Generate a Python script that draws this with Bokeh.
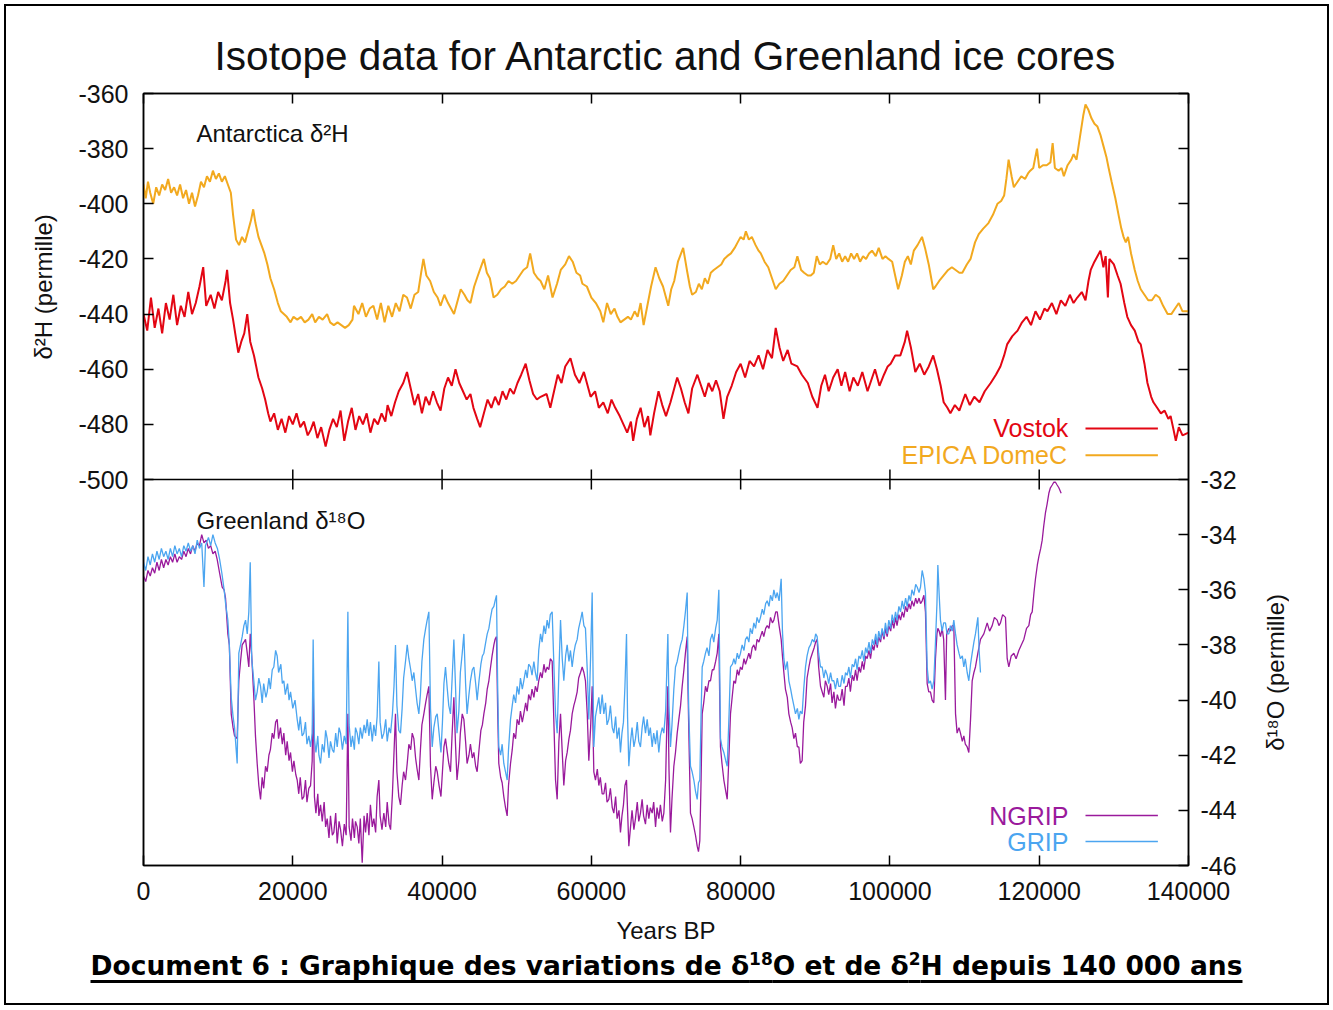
import math
from bokeh.plotting import figure
from bokeh.models import (Range1d, FixedTicker, LinearAxis, Label, Arrow, Div, Span, Title,
                          ColumnDataSource, BasicTickFormatter)
from bokeh.layouts import column, row
from bokeh.embed import file_html
from bokeh.resources import INLINE

# ---------------- data ----------------
TITLE = "Isotope data for Antarctic and Greenland ice cores"
X_LABEL = "Years BP"
H_LABEL = "δ²H (permille)"
O_LABEL = "δ¹⁸O (permille)"
TOP_TAG = "Antarctica δ²H"
BOT_TAG = "Greenland δ¹⁸O"
CAPTION_HTML = ("Document 6 : Graphique des variations de δ<sup>18</sup>O "
                "et de δ<sup>2</sup>H depuis 140 000 ans")

X_TICKS = [0, 20000, 40000, 60000, 80000, 100000, 120000, 140000]
H_TICKS = [-500, -480, -460, -440, -420, -400, -380, -360]
O_TICKS = [-46, -44, -42, -40, -38, -36, -34, -32]

# (years BP, delta2H) Vostok
VOSTOK = [
 (0,-440),(500,-446),(1000,-434),(1500,-445),(2000,-438),(2500,-447),(3000,-436),(3500,-442),
 (4000,-433),(4500,-444),(5000,-437),(5500,-441),(6000,-432),(6500,-440),(7000,-436),(7500,-430),
 (8000,-423),(8400,-437),(9000,-433),(9500,-438),(10000,-432),(10500,-435),(11000,-428),(11200,-424),
 (11600,-436),(12000,-442),(12400,-449),(12700,-454),(13100,-450),(13500,-447),(13900,-440),(14300,-450),
 (14800,-455),(15400,-463),(15900,-467),(16300,-471),(16700,-476),(17000,-479),(17500,-476),(18000,-482),
 (18500,-478),(19000,-483),(19500,-477),(20000,-480),(20500,-476),(21000,-481),(21500,-479),(22000,-484),
 (22400,-482),(22800,-479),(23300,-485),(23800,-481),(24400,-488),(24900,-482),(25400,-478),(25900,-481),
 (26400,-475),(26900,-486),(27400,-479),(27900,-474),(28400,-482),(28900,-477),(29400,-480),(29900,-476),
 (30400,-483),(30900,-478),(31400,-480),(31900,-476),(32400,-479),(32700,-473),(33200,-477),(33700,-472),
 (34200,-468),(34800,-465),(35300,-461),(35800,-467),(36300,-473),(36800,-469),(37300,-476),(37800,-470),
 (38300,-473),(38800,-468),(39300,-472),(39800,-475),(40300,-467),(40800,-463),(41300,-466),(41800,-460),
 (42300,-465),(42800,-468),(43300,-471),(43800,-469),(44200,-474),(44700,-478),(45100,-481),(45600,-476),
 (46100,-471),(46600,-474),(47100,-470),(47600,-473),(48100,-468),(48600,-471),(49100,-467),(49600,-469),
 (50100,-465),(50600,-462),(51200,-458),(51700,-464),(52200,-469),(52700,-471),(53200,-470),(54000,-469),
 (54500,-474),(55000,-468),(55500,-462),(56000,-465),(56500,-459),(57200,-456),(57800,-462),(58400,-465),
 (59000,-461),(59900,-470),(60500,-468),(61000,-474),(61600,-472),(62200,-476),(62700,-471),(63200,-474),
 (63800,-477),(64300,-480),(64800,-483),(65300,-479),(65600,-486),(66100,-478),(66600,-474),(67100,-481),
 (67600,-477),(67900,-484),(68400,-476),(69000,-468),(69500,-473),(70000,-477),(70600,-472),(71000,-468),
 (71500,-463),(72000,-467),(72500,-472),(73000,-476),(73500,-467),(74200,-462),(74700,-466),(75200,-470),
 (75700,-465),(76200,-468),(76700,-464),(77200,-468),(77700,-478),(78200,-470),(78800,-466),(79400,-461),
 (80000,-458),(80600,-463),(81200,-457),(81800,-459),(82400,-455),(83000,-460),(83600,-453),(84200,-456),
 (84700,-445),(85200,-452),(85700,-457),(86300,-453),(86800,-458),(87600,-459),(88200,-462),(89000,-465),
 (89600,-470),(90300,-474),(90800,-466),(91300,-462),(91800,-468),(92400,-463),(93000,-460),(93500,-466),
 (94000,-461),(94600,-468),(95100,-463),(95700,-466),(96300,-461),(97000,-468),(97500,-464),(98000,-460),
 (98600,-466),(99200,-462),(99700,-459),(100100,-458),(100700,-455),(101400,-455),(102000,-450),(102300,-446),
 (102800,-452),(103400,-461),(104000,-458),(104600,-462),(105200,-459),(105800,-455),(106300,-460),(106800,-466),
 (107200,-472),(107700,-474),(108100,-476),(108700,-473),(109300,-475),(110100,-469),(110700,-473),(111300,-470),
 (112000,-472),(112700,-468),(113500,-465),(114200,-462),(114800,-459),(115300,-455),(115700,-451),(116400,-448),
 (117100,-446),(117700,-443),(118300,-441),(118900,-444),(119500,-439),(120100,-442),(120700,-438),(121100,-439),
 (121700,-436),(122300,-440),(122900,-435),(123500,-437),(124100,-433),(124600,-436),(125100,-434),(125700,-432),
 (126200,-435),(126600,-428),(126900,-424),(127400,-421),(127800,-419),(128200,-417),(128600,-423),(128900,-419),
 (129200,-434),(129400,-420),(130000,-422),(130500,-426),(130900,-429),(131400,-436),(131800,-441),(132300,-444),
 (132800,-446),(133300,-450),(133600,-451),(134100,-458),(134500,-465),(135000,-470),(135300,-472),(135800,-474),
 (136300,-476),(136800,-475),(137300,-478),(137600,-477),(138000,-482),(138300,-486),(138700,-481),(139200,-484),
 (140000,-483),
]

# (years BP, delta2H) EPICA Dome C
EPICA = [
 (0,-393),(300,-398),(600,-392),(900,-396),(1300,-400),(1700,-394),(2100,-397),(2500,-393),(2900,-395),
 (3300,-391),(3700,-396),(4100,-394),(4500,-397),(4900,-393),(5300,-398),(5700,-395),(6100,-400),(6500,-396),
 (6900,-401),(7300,-397),(7700,-392),(8100,-394),(8500,-390),(8900,-392),(9300,-388),(9700,-391),(10100,-389),
 (10500,-392),(10900,-390),(11300,-393),(11700,-396),(12000,-404),(12400,-413),(12800,-415),(13200,-412),
 (13600,-414),(14000,-410),(14400,-406),(14700,-402),(15000,-407),(15400,-412),(15800,-415),(16200,-418),
 (16600,-422),(17000,-427),(17500,-431),(18000,-436),(18400,-439),(18800,-440),(19200,-441),(19700,-443),
 (20100,-441),(20600,-442),(21100,-441),(21600,-443),(22100,-442),(22600,-440),(23000,-443),(23500,-441),
 (24000,-442),(24600,-440),(25000,-443),(25500,-444),(26000,-443),(26500,-444),(27000,-445),(27500,-444),
 (28000,-442),(28200,-437),(28800,-440),(29300,-436),(29800,-441),(30300,-438),(30800,-437),(31300,-442),
 (31800,-436),(32300,-443),(32800,-437),(33300,-441),(33800,-436),(34300,-439),(34800,-433),(35300,-434),
 (35800,-438),(36300,-433),(36800,-432),(37200,-425),(37500,-420),(37900,-426),(38400,-428),(38900,-432),
 (39400,-434),(39800,-437),(40300,-433),(40800,-436),(41200,-438),(41600,-440),(42000,-436),(42500,-431),
 (43000,-433),(43400,-435),(43800,-436),(44300,-430),(44800,-426),(45200,-423),(45600,-420),(46000,-425),
 (46400,-427),(46900,-434),(47400,-433),(47900,-431),(48400,-430),(48900,-428),(49400,-429),(49900,-428),
 (50400,-426),(50900,-424),(51400,-423),(51800,-418),(52300,-425),(52800,-427),(53200,-428),(53700,-431),
 (54200,-426),(54800,-434),(55400,-429),(55900,-424),(56500,-422),(57000,-419),(57500,-421),(58000,-425),
 (58500,-426),(58800,-429),(59400,-430),(60000,-434),(60600,-436),(61200,-439),(61600,-443),(62100,-436),
 (62600,-440),(63100,-438),(63500,-441),(63900,-443),(64400,-442),(64900,-441),(65300,-442),(65800,-439),
 (66200,-441),(66600,-436),(67000,-444),(67500,-437),(68000,-430),(68600,-423),(69100,-427),(69600,-430),
 (70000,-434),(70300,-437),(70700,-431),(71100,-428),(71600,-421),(72300,-416),(72800,-424),(73200,-430),
 (73500,-433),(74000,-432),(74400,-429),(74800,-431),(75200,-427),(75600,-429),(76000,-425),(76400,-424),
 (76900,-423),(77400,-422),(77800,-420),(78200,-419),(78700,-418),(79200,-416),(79600,-414),(80000,-412),
 (80400,-413),(80700,-410),(81100,-413),(81500,-412),(82000,-415),(82400,-417),(82700,-418),(83200,-421),
 (83700,-423),(84200,-427),(84700,-431),(85200,-429),(85700,-428),(86200,-426),(86700,-424),(87200,-423),
 (87600,-419),(88100,-424),(88500,-425),(89000,-426),(89400,-426),(89800,-425),(90200,-419),(90600,-422),
 (91000,-421),(91500,-422),(92000,-420),(92400,-415),(92800,-420),(93200,-418),(93600,-421),(94000,-419),
 (94400,-421),(94800,-418),(95200,-420),(95600,-418),(96000,-421),(96400,-419),(96800,-420),(97200,-418),
 (97600,-417),(98100,-419),(98500,-416),(99000,-420),(99400,-419),(99800,-420),(100300,-421),(100700,-426),
 (101100,-431),(101600,-426),(102000,-421),(102400,-419),(102800,-422),(103200,-417),(103700,-415),(104300,-412),
 (104700,-416),(105200,-422),(105800,-431),(106100,-430),(106600,-428),(107200,-426),(107800,-424),(108300,-423),
 (108800,-424),(109300,-425),(109700,-425),(110300,-422),(110800,-420),(111400,-414),(111900,-411),(112500,-409),
 (113200,-407),(113800,-404),(114400,-400),(114900,-399),(115300,-397),(115600,-391),(115900,-384),(116300,-390),
 (116600,-394),(117100,-392),(117600,-390),(118100,-391),(118500,-389),(118800,-388),(119200,-387),(119700,-380),
 (120000,-387),(120500,-386),(121000,-386),(121500,-385),(121800,-378),(122100,-387),(122600,-388),(123000,-387),
 (123300,-390),(123800,-386),(124300,-384),(124600,-382),(125000,-384),(125500,-375),(125900,-368),(126200,-364),
 (126600,-366),(127000,-369),(127400,-371),(127800,-372),(128200,-375),(128600,-379),(129000,-383),(129300,-387),
 (129700,-392),(130200,-398),(130700,-405),(131000,-409),(131300,-412),(131600,-414),(131900,-412),(132300,-418),
 (132800,-424),(133200,-428),(133600,-431),(134100,-433),(134600,-435),(135100,-435),(135600,-433),(136100,-434),
 (136600,-437),(137200,-440),(137700,-440),(138200,-438),(138700,-436),(139200,-439),(140000,-439),
]

# (years BP, delta18O) NGRIP
NGRIP = [
 (0,-35.5),(300,-35.7),(600,-35.3),(900,-35.5),(1200,-35.2),(1500,-35.4),(1800,-35.0),(2100,-35.3),(2400,-34.9),
 (2700,-35.2),(3000,-34.9),(3300,-35.1),(3600,-34.8),(3900,-35.0),(4200,-34.7),(4500,-35.0),(4800,-34.8),(5100,-34.9),
 (5400,-34.6),(5700,-34.8),(6000,-34.5),(6300,-34.7),(6600,-34.4),(6900,-34.6),(7200,-34.3),(7500,-34.4),(7800,-34.0),
 (8100,-34.3),(8400,-34.2),(8700,-34.5),(9000,-34.4),(9300,-34.7),(9600,-34.6),(9870,-34.9),(10200,-35.4),(10540,-35.9),
 (10800,-36.0),(10990,-36.3),(11300,-37.6),(11500,-38.0),(11750,-40.5),(12000,-41.0),(12200,-41.3),(12550,-41.4),
 (12770,-39.3),(13000,-38.6),(13220,-38.0),(13450,-37.9),(13670,-37.8),(13900,-38.3),(14110,-38.8),(14300,-37.6),
 (14500,-38.4),(14780,-39.9),(15000,-41.3),(15230,-42.3),(15450,-43.1),(15680,-43.6),(15900,-42.8),(16100,-43.2),
 (16350,-42.4),(16570,-42.6),(16800,-42.0),(17000,-41.8),(17250,-41.2),(17460,-41.4),(17700,-40.8),(17910,-40.7),
 (18100,-41.4),(18350,-41.0),(18600,-41.6),(18800,-41.2),(19050,-42.0),(19250,-41.5),(19500,-42.2),(19700,-41.9),
 (19950,-42.6),(20150,-42.2),(20400,-42.7),(20590,-42.9),(20800,-43.4),(21000,-42.8),(21250,-43.6),(21480,-43.5),
 (21700,-42.9),(21900,-43.7),(22150,-43.2),(22380,-43.1),(22600,-42.2),(22730,-39.3),(22900,-43.5),(23100,-44.1),
 (23350,-43.4),(23500,-44.2),(23720,-43.8),(23950,-44.4),(24200,-43.7),(24400,-44.6),(24610,-44.3),(24850,-45.0),
 (25050,-44.2),(25300,-44.9),(25500,-44.8),(25750,-44.1),(25950,-45.2),(26200,-44.4),(26400,-44.7),(26650,-45.3),
 (26900,-44.5),(27150,-44.9),(27380,-40.5),(27550,-44.6),(27800,-45.1),(28000,-44.3),(28250,-45.0),(28400,-44.4),
 (28630,-44.6),(28850,-45.2),(29050,-44.3),(29300,-45.9),(29550,-44.2),(29750,-44.8),(29970,-44.1),(30200,-44.9),
 (30400,-43.8),(30650,-44.6),(30860,-44.3),(31100,-44.8),(31300,-43.5),(31530,-42.9),(31700,-44.2),(31950,-44.7),
 (32200,-44.1),(32450,-44.6),(32650,-43.7),(32900,-44.5),(33100,-44.7),(33350,-43.4),(33560,-41.9),(33760,-40.5),
 (33950,-42.6),(34200,-43.5),(34430,-43.8),(34650,-43.1),(34850,-42.6),(35100,-42.9),(35330,-42.3),(35550,-41.6),
 (35800,-41.8),(36000,-41.2),(36220,-41.4),(36450,-42.1),(36650,-42.5),(36890,-42.9),(37100,-41.8),(37300,-40.9),
 (37560,-40.5),(37800,-40.1),(38000,-39.8),(38230,-39.5),(38450,-42.4),(38680,-43.6),(38900,-43.0),(39150,-42.4),
 (39350,-42.6),(39600,-43.1),(39850,-43.5),(40050,-42.6),(40250,-41.7),(40460,-41.4),(40700,-41.9),(40900,-42.3),
 (41130,-42.6),(41350,-41.2),(41580,-39.9),(41800,-41.6),(42000,-42.9),(42250,-42.2),(42450,-41.2),(42700,-40.5),
 (42920,-40.7),(43150,-41.5),(43350,-42.3),(43600,-42.0),(43800,-41.6),(44050,-42.1),(44260,-41.9),(44500,-42.4),
 (44700,-42.6),(44950,-41.8),(45200,-41.1),(45400,-40.9),(45600,-40.5),(45850,-40.1),(46050,-39.6),(46270,-39.3),
 (46500,-38.8),(46700,-38.4),(46940,-38.0),(47100,-37.8),(47290,-37.7),(47450,-40.4),(47600,-42.3),(47850,-42.8),
 (48050,-43.0),(48270,-43.5),(48500,-43.9),(48720,-44.2),(48900,-43.1),(49170,-42.3),(49400,-41.8),(49600,-41.2),
 (49850,-41.4),(50060,-40.7),(50300,-40.9),(50500,-40.4),(50750,-40.8),(50950,-40.5),(51200,-40.1),(51400,-40.4),
 (51600,-39.8),(51850,-40.0),(52050,-39.6),(52300,-39.9),(52500,-39.5),(52740,-39.7),(52950,-39.3),(53190,-39.0),
 (53400,-39.2),(53650,-38.7),(53850,-39.0),(54080,-38.8),(54300,-38.9),(54500,-38.5),(54750,-38.6),(55000,-41.0),
 (55200,-42.9),(55420,-43.6),(55650,-41.5),(55870,-40.5),(56100,-41.9),(56310,-43.1),(56550,-42.2),(56760,-41.9),
 (57000,-41.4),(57200,-41.1),(57430,-40.5),(57650,-40.2),(57850,-40.0),(58100,-39.7),(58300,-39.2),(58550,-39.0),
 (58770,-38.8),(59000,-39.0),(59210,-39.3),(59450,-40.5),(59660,-42.2),(59900,-41.0),(60110,-39.5),(60330,-42.6),
 (60550,-42.9),(60800,-42.5),(61000,-43.1),(61200,-42.8),(61450,-43.4),(61670,-43.4),(61900,-43.0),(62100,-43.7),
 (62340,-43.6),(62550,-43.2),(62800,-43.9),(63010,-44.1),(63250,-43.5),(63450,-44.3),(63700,-44.0),(63900,-44.8),
 (64100,-44.2),(64300,-43.8),(64500,-43.1),(64710,-42.9),(64850,-44.0),(65020,-45.3),(65250,-44.6),(65450,-44.0),
 (65700,-44.7),(65910,-44.3),(66150,-43.7),(66350,-44.4),(66580,-44.1),(66800,-43.6),(67000,-44.2),(67250,-44.5),
 (67480,-43.8),(67700,-44.3),(67900,-43.9),(68150,-44.1),(68350,-43.7),(68600,-44.6),(68800,-43.9),(69040,-44.3),
 (69250,-43.8),(69500,-44.4),(69710,-44.1),(69950,-42.9),(70100,-41.0),(70250,-39.5),(70400,-42.5),(70600,-44.8),
 (70800,-43.6),(71050,-42.4),(71270,-41.9),(71500,-41.2),(71720,-40.7),(71950,-40.2),(72170,-39.5),(72400,-38.9),
 (72600,-38.3),(72840,-37.7),(72950,-39.6),(73060,-41.2),(73280,-44.1),(73500,-44.3),(73730,-44.6),(73950,-44.9),
 (74180,-45.3),(74350,-45.5),(74530,-45.1),(74700,-42.9),(74850,-40.5),(75050,-40.1),(75290,-39.5),(75500,-39.7),
 (75750,-39.3),(75960,-39.3),(76200,-38.9),(76400,-38.9),(76650,-38.6),(76860,-38.3),(77080,-37.6),(77200,-40.0),
 (77300,-41.7),(77500,-42.3),(77750,-42.9),(78000,-43.3),(78200,-43.6),(78450,-41.9),(78640,-40.5),(78900,-39.8),
 (79090,-39.3),(79300,-39.4),(79550,-38.9),(79750,-39.1),(79980,-38.8),(80200,-38.9),(80450,-38.5),(80650,-38.7),
 (80880,-38.5),(81100,-38.3),(81300,-38.5),(81550,-38.1),(81770,-38.0),(82000,-38.2),(82200,-37.8),(82450,-37.9),
 (82660,-37.7),(82900,-37.5),(83100,-37.7),(83350,-37.4),(83560,-37.3),(83800,-37.4),(84000,-37.0),(84250,-37.2),
 (84450,-37.1),(84700,-36.8),(84900,-36.8),(85150,-37.3),(85430,-37.8),(85600,-38.4),(85790,-39.0),(86000,-39.6),
 (86250,-39.9),(86460,-40.5),(86700,-40.8),(86900,-41.0),(87130,-41.4),(87350,-41.2),(87600,-41.7),(87800,-41.7),
 (88000,-42.3),(88240,-42.2),(88450,-40.8),(88690,-40.2),(88900,-39.2),(89150,-38.8),(89360,-38.5),(89600,-38.3),
 (89850,-38.1),(90050,-37.9),(90250,-37.8),(90450,-38.8),(90700,-39.5),(90920,-39.7),(91150,-39.9),(91350,-39.3),
 (91600,-39.5),(91800,-39.8),(92050,-39.4),(92250,-40.1),(92490,-39.7),(92700,-40.3),(92950,-39.8),(93150,-40.0),
 (93380,-40.0),(93600,-39.6),(93850,-40.2),(94050,-39.5),(94270,-39.5),(94500,-39.2),(94700,-39.7),(94950,-39.1),
 (95170,-39.3),(95400,-38.9),(95600,-39.3),(95850,-38.8),(96060,-39.0),(96300,-38.6),(96500,-38.9),(96750,-38.4),
 (96950,-38.5),(97200,-38.2),(97400,-38.5),(97650,-38.0),(97850,-38.2),(98100,-37.8),(98300,-38.1),(98500,-37.7),
 (98740,-37.9),(98950,-37.5),(99200,-37.8),(99400,-37.4),(99630,-37.7),(99850,-37.3),(100100,-37.5),(100300,-37.1),
 (100520,-37.4),(100750,-37.0),(100950,-37.3),(101200,-36.9),(101420,-37.1),(101650,-36.8),(101850,-37.0),
 (102100,-36.6),(102310,-36.8),(102550,-36.5),(102750,-36.7),(102950,-36.4),(103200,-36.6),(103450,-36.3),
 (103650,-36.5),(103900,-36.3),(104100,-36.5),(104320,-36.4),(104550,-36.2),(104760,-36.8),(104990,-39.4),
 (105200,-39.7),(105430,-39.7),(105650,-40.0),(105880,-40.1),(106100,-38.5),(106300,-37.6),(106420,-37.4),
 (106600,-37.5),(106770,-37.7),(107000,-37.4),(107200,-37.8),(107440,-40.0),(107600,-37.6),(107890,-37.4),
 (108100,-37.5),(108350,-37.3),(108560,-37.3),(108790,-40.5),(109000,-41.2),(109250,-41.0),(109450,-41.2),
 (109700,-41.5),(109900,-41.3),(110100,-41.6),(110350,-41.7),(110570,-41.9),(110800,-40.7),(111020,-39.3),
 (111250,-39.0),(111460,-38.8),(111780,-38.3),(112130,-37.8),(112580,-37.6),(113030,-37.2),(113350,-37.5),
 (113700,-37.3),(114000,-37.0),(114370,-37.1),(114600,-37.3),(114810,-37.2),(115100,-36.9),(115480,-37.0),
 (115710,-38.5),(115930,-38.8),(116250,-38.4),(116600,-38.3),(116900,-38.5),(117270,-38.2),(117600,-38.0),
 (117940,-37.8),(118300,-37.4),(118610,-37.3),(118850,-36.9),(119060,-36.8),(119300,-36.1),(119500,-35.6),
 (119750,-35.1),(119950,-34.8),(120200,-34.5),(120400,-34.2),(120600,-33.7),(120840,-33.2),(121050,-32.9),
 (121290,-32.5),(121500,-32.3),(121740,-32.2),(121950,-32.1),(122180,-32.1),(122400,-32.2),(122630,-32.3),
 (122940,-32.5),
]

# (years BP, delta18O) GRIP
GRIP = [
 (0,-35.0),(300,-35.3),(600,-34.8),(900,-35.1),(1200,-34.7),(1500,-35.0),(1800,-34.6),(2100,-34.9),(2400,-34.5),
 (2700,-34.8),(3000,-34.6),(3300,-34.9),(3600,-34.5),(3900,-34.8),(4200,-34.4),(4500,-34.7),(4800,-34.5),(5100,-34.8),
 (5400,-34.4),(5700,-34.6),(6000,-34.3),(6300,-34.6),(6600,-34.4),(6900,-34.7),(7200,-34.2),(7500,-34.5),(7800,-34.3),
 (8100,-35.9),(8300,-34.4),(8700,-34.1),(9000,-34.4),(9300,-34.0),(9600,-34.3),(9900,-34.5),(10200,-34.9),(10500,-35.4),
 (10800,-36.0),(11000,-36.5),(11300,-37.1),(11500,-38.0),(11750,-39.9),(12000,-40.6),(12200,-41.0),(12550,-42.3),
 (12770,-38.3),(13000,-38.0),(13220,-37.7),(13450,-37.3),(13670,-37.1),(13900,-37.6),(14110,-36.8),(14300,-35.0),
 (14500,-38.5),(14780,-39.3),(15000,-40.0),(15230,-39.7),(15450,-39.2),(15680,-39.5),(15900,-40.1),(16100,-39.4),
 (16400,-39.9),(16570,-39.7),(16800,-39.2),(17000,-39.6),(17250,-38.9),(17460,-38.8),(17700,-38.2),(17910,-38.4),
 (18100,-39.0),(18400,-38.7),(18600,-39.4),(18800,-39.3),(19000,-39.8),(19300,-39.4),(19500,-40.0),(19700,-39.7),
 (20000,-40.3),(20300,-40.0),(20590,-40.7),(20800,-41.1),(21000,-40.6),(21250,-41.3),(21480,-41.2),(21700,-40.8),
 (21900,-41.6),(22150,-41.3),(22380,-41.7),(22600,-41.2),(22730,-37.8),(22900,-41.4),(23100,-41.9),(23350,-41.3),
 (23500,-42.0),(23720,-42.3),(23950,-41.6),(24200,-41.9),(24400,-41.1),(24610,-41.4),(24850,-42.1),(25050,-41.5),
 (25300,-41.8),(25500,-41.9),(25750,-41.2),(25950,-41.7),(26200,-41.0),(26400,-41.2),(26650,-41.8),(26900,-41.3),
 (27150,-41.6),(27380,-36.8),(27550,-40.9),(27800,-41.7),(28000,-41.3),(28250,-41.8),(28400,-41.0),(28630,-41.2),
 (28850,-41.6),(29050,-41.0),(29300,-41.4),(29550,-40.9),(29750,-41.2),(29970,-40.7),(30200,-41.3),(30400,-40.8),
 (30650,-41.5),(30860,-40.9),(31100,-41.3),(31300,-40.6),(31530,-38.6),(31700,-40.8),(31950,-41.4),(32200,-41.2),
 (32450,-40.7),(32650,-41.5),(32900,-41.0),(33100,-41.2),(33350,-40.5),(33560,-39.5),(33760,-38.0),(33950,-40.2),
 (34200,-41.1),(34430,-41.2),(34650,-40.3),(34850,-39.2),(35100,-38.6),(35330,-38.0),(35550,-38.5),(35800,-38.9),
 (36000,-39.3),(36220,-39.0),(36450,-39.6),(36650,-40.1),(36890,-40.5),(37100,-39.8),(37300,-38.6),(37560,-37.8),
 (37800,-37.4),(38000,-37.1),(38230,-36.8),(38450,-40.3),(38680,-41.7),(38900,-41.0),(39150,-40.6),(39350,-40.5),
 (39600,-41.2),(39850,-41.9),(40050,-40.8),(40250,-39.4),(40460,-38.8),(40700,-39.6),(40900,-40.2),(41130,-40.5),
 (41350,-39.2),(41580,-37.8),(41800,-39.5),(42000,-41.2),(42250,-40.4),(42450,-39.0),(42700,-38.3),(42920,-37.6),
 (43150,-39.4),(43350,-40.5),(43600,-39.8),(43800,-39.3),(44050,-38.9),(44260,-38.8),(44500,-39.4),(44700,-40.0),
 (44950,-39.3),(45200,-38.7),(45400,-38.4),(45600,-38.3),(45850,-37.9),(46050,-37.6),(46270,-37.4),(46500,-37.0),
 (46700,-36.7),(46940,-36.6),(47100,-36.4),(47290,-36.2),(47450,-39.5),(47600,-41.7),(47850,-42.0),(48050,-41.6),
 (48270,-42.3),(48500,-42.6),(48720,-42.9),(48900,-41.8),(49170,-40.7),(49400,-40.2),(49600,-39.8),(49850,-40.1),
 (50060,-39.5),(50300,-39.8),(50500,-39.2),(50750,-39.6),(50950,-39.3),(51200,-38.9),(51400,-39.2),(51600,-38.7),
 (51850,-38.8),(52050,-39.1),(52300,-38.6),(52500,-39.0),(52740,-39.3),(52950,-38.2),(53190,-37.6),(53400,-37.9),
 (53650,-37.3),(53850,-37.6),(54080,-37.1),(54300,-37.4),(54500,-36.9),(54750,-36.8),(55000,-38.9),(55200,-40.5),
 (55420,-41.2),(55650,-39.0),(55870,-37.1),(56100,-38.5),(56310,-39.3),(56550,-38.4),(56760,-38.0),(57000,-38.6),
 (57200,-38.2),(57430,-38.8),(57650,-38.3),(57850,-38.0),(58100,-37.8),(58300,-37.4),(58550,-37.1),(58770,-36.8),
 (59000,-37.3),(59210,-37.4),(59450,-38.9),(59660,-40.7),(59900,-38.4),(60110,-36.1),(60330,-41.7),(60550,-40.6),
 (60800,-40.2),(61000,-39.9),(61200,-40.5),(61450,-39.8),(61670,-40.5),(61900,-40.1),(62100,-40.9),(62340,-40.7),
 (62550,-40.2),(62800,-41.0),(63010,-41.2),(63250,-40.6),(63450,-41.4),(63700,-41.0),(63900,-41.9),(64100,-41.2),
 (64300,-40.8),(64500,-39.5),(64710,-37.6),(64850,-40.6),(65020,-42.4),(65250,-41.5),(65450,-41.0),(65700,-41.7),
 (65910,-41.4),(66150,-40.8),(66350,-41.5),(66580,-41.7),(66800,-41.0),(67000,-40.6),(67250,-41.2),(67480,-40.7),
 (67700,-41.3),(67900,-41.0),(68150,-41.7),(68350,-41.2),(68600,-41.6),(68800,-41.1),(69040,-41.9),(69250,-41.3),
 (69500,-41.0),(69710,-41.2),(69950,-40.4),(70100,-39.0),(70250,-37.6),(70400,-40.2),(70600,-41.7),(70800,-40.9),
 (71050,-39.6),(71270,-38.8),(71500,-38.6),(71720,-38.3),(71950,-38.0),(72170,-37.8),(72400,-37.3),(72600,-36.8),
 (72840,-36.1),(72950,-39.0),(73060,-40.5),(73280,-42.4),(73500,-42.6),(73730,-42.9),(73950,-43.3),(74180,-43.6),
 (74350,-43.0),(74530,-42.9),(74700,-40.5),(74850,-38.8),(75050,-38.6),(75290,-38.3),(75500,-38.1),(75750,-38.4),
 (75960,-37.8),(76200,-37.6),(76400,-37.9),(76650,-37.4),(76860,-37.1),(77080,-36.0),(77200,-39.0),(77300,-41.4),
 (77500,-41.7),(77750,-41.9),(78000,-42.2),(78200,-42.4),(78450,-40.5),(78640,-38.8),(78900,-38.7),(79090,-38.5),
 (79300,-38.7),(79550,-38.3),(79750,-38.5),(79980,-38.3),(80200,-38.0),(80450,-38.2),(80650,-37.8),(80880,-37.7),
 (81100,-37.9),(81300,-37.4),(81550,-37.6),(81770,-37.2),(82000,-37.4),(82200,-37.0),(82450,-37.2),(82660,-37.0),
 (82900,-36.7),(83100,-36.9),(83350,-36.5),(83560,-36.4),(83800,-36.6),(84000,-36.2),(84250,-36.4),(84450,-36.0),
 (84700,-36.3),(84900,-36.1),(85150,-36.4),(85430,-35.6),(85600,-37.5),(85790,-38.5),(86000,-38.9),(86250,-38.6),
 (86460,-39.3),(86700,-39.6),(86900,-39.9),(87130,-40.2),(87350,-40.5),(87600,-40.3),(87800,-40.7),(88000,-40.4),
 (88240,-40.5),(88450,-39.6),(88690,-38.8),(88900,-38.4),(89150,-38.1),(89360,-38.0),(89600,-37.8),(89850,-37.9),
 (90050,-37.6),(90250,-37.7),(90450,-38.3),(90700,-38.8),(90920,-38.8),(91150,-39.2),(91350,-38.9),(91600,-39.1),
 (91800,-39.4),(92050,-39.0),(92250,-39.3),(92490,-39.3),(92700,-39.6),(92950,-39.2),(93150,-39.5),(93380,-39.5),
 (93600,-39.1),(93850,-39.4),(94050,-39.0),(94270,-39.1),(94500,-38.8),(94700,-39.2),(94950,-38.7),(95170,-38.8),
 (95400,-38.5),(95600,-38.9),(95850,-38.4),(96060,-38.5),(96300,-38.2),(96500,-38.6),(96750,-38.1),(96950,-38.3),
 (97200,-37.9),(97400,-38.3),(97650,-37.8),(97850,-38.0),(98100,-37.6),(98300,-38.0),(98500,-37.5),(98740,-37.8),
 (98950,-37.4),(99200,-37.7),(99400,-37.2),(99630,-37.6),(99850,-37.1),(100100,-37.4),(100300,-36.9),(100520,-37.2),
 (100750,-36.8),(100950,-37.1),(101200,-36.6),(101420,-36.8),(101650,-36.4),(101850,-36.7),(102100,-36.3),
 (102310,-36.6),(102550,-36.2),(102750,-36.4),(102950,-36.0),(103200,-36.2),(103450,-35.8),(103650,-35.9),
 (103900,-36.1),(104100,-35.9),(104320,-35.3),(104550,-35.6),(104760,-36.1),(104990,-38.8),(105200,-39.4),
 (105430,-39.3),(105650,-39.6),(105880,-39.3),(106100,-37.9),(106300,-36.5),(106420,-35.1),(106600,-36.2),
 (106770,-37.1),(107000,-37.5),(107200,-37.2),(107440,-37.2),(107650,-37.6),(107890,-37.6),(108100,-37.3),
 (108350,-37.5),(108560,-37.1),(108790,-37.6),(109000,-38.0),(109250,-38.3),(109450,-38.5),(109700,-38.4),
 (109900,-38.8),(110100,-38.5),(110350,-39.0),(110570,-39.3),(110800,-38.7),(111020,-38.3),(111250,-37.9),
 (111460,-37.6),(111780,-37.0),(111950,-38.2),(112130,-39.0),
]

COLORS = {"Vostok": "#e30613", "EPICA DomeC": "#f2a91f", "NGRIP": "#9a1a9c", "GRIP": "#4ba5f0"}

# ---------------- styling / layout ----------------
FONT = "Liberation Sans"
INK = "#111111"
FRAME_W, PANEL_H = 1045, 386
LEFT, RIGHT, TOP, BOTTOM = 137, 68, 87, 85
SIDE_W = 71                      # column holding the right-hand axis title
FIG_W = LEFT + FRAME_W + RIGHT
FIG_H = TOP + 2 * PANEL_H + BOTTOM
TOTAL_W = FIG_W + SIDE_W

# each panel has its own y scale; the top panel's range is extended downward
# by one panel height and the bottom panel's range upward by one panel height
H_SPAN = H_TICKS[-1] - H_TICKS[0]
O_SPAN = O_TICKS[-1] - O_TICKS[0]
h_range = Range1d(H_TICKS[0] - H_SPAN, H_TICKS[-1])
o_range = Range1d(O_TICKS[0], O_TICKS[-1] + O_SPAN)
MID_H = H_TICKS[0]


def src(pairs):
    return ColumnDataSource(dict(x=[p[0] for p in pairs], y=[p[1] for p in pairs]))


def make_axis(ticks, overrides=None, show_labels=True, standoff=12, **kw):
    ax = LinearAxis(ticker=FixedTicker(ticks=ticks),
                    formatter=BasicTickFormatter(use_scientific=False),
                    major_tick_in=10, major_tick_out=0,
                    minor_tick_line_color=None,
                    axis_line_color="black", axis_line_width=1.5,
                    major_tick_line_color="black", major_tick_line_width=1.5,
                    major_label_text_font=FONT, major_label_text_font_size="25px",
                    major_label_text_color=INK if show_labels else None,
                    major_label_standoff=standoff if show_labels else 0, **kw)
    if overrides:
        ax.major_label_overrides = overrides
    return ax


p = figure(frame_width=FRAME_W, frame_height=2 * PANEL_H,
           x_range=Range1d(X_TICKS[0], X_TICKS[-1]), y_range=h_range,
           output_backend="svg", toolbar_location=None,
           x_axis_location=None, y_axis_location=None,
           min_border_left=LEFT, min_border_right=RIGHT,
           min_border_top=TOP, min_border_bottom=BOTTOM, title=TITLE)
p.extra_y_ranges = {"o18": o_range}
p.title.text_font = FONT
p.title.text_font_size = "40.5px"
p.title.text_font_style = "normal"
p.title.text_color = INK
p.title.align = "center"
p.title.standoff = 29
p.grid.visible = False
p.outline_line_color = "black"
p.outline_line_width = 1.5
p.background_fill_color = "white"
p.border_fill_color = "white"

# left axis: delta2H ticks in the top panel only
p.add_layout(make_axis(H_TICKS, overrides={t: str(t) for t in H_TICKS}, standoff=15), "left")
# left axis title, placed along the top panel
p.add_layout(Title(text=H_LABEL, align="left", offset=506, standoff=38, text_font=FONT,
                   text_font_size="24px", text_font_style="normal", text_color=INK), "left")
# right axis: labelled delta18O ticks below, unlabelled delta2H ticks above
top_right = [O_TICKS[-1] + (h - MID_H) * O_SPAN / H_SPAN for h in H_TICKS[1:]]
right_over = {t: str(t) for t in O_TICKS}
right_over.update({t: "" for t in top_right})
p.add_layout(make_axis(O_TICKS + top_right, overrides=right_over, standoff=12,
                       y_range_name="o18"), "right")
# x axes
p.add_layout(make_axis(X_TICKS, show_labels=False), "above")
xb = make_axis(X_TICKS, standoff=16)
xb.axis_label = X_LABEL
xb.axis_label_text_font = FONT
xb.axis_label_text_font_size = "24px"
xb.axis_label_text_font_style = "normal"
xb.axis_label_text_color = INK
xb.axis_label_standoff = 14
p.add_layout(xb, "below")

# separation line between the two panels, with its tick marks
p.add_layout(Span(location=MID_H, dimension="width", line_color="black", line_width=1.5))
p.scatter(X_TICKS[1:-1], [MID_H] * (len(X_TICKS) - 2), marker="dash", angle=math.pi / 2,
          size=20, line_color="black", line_width=1.5)

# data
p.line("x", "y", source=src(VOSTOK), line_color=COLORS["Vostok"], line_width=2)
p.line("x", "y", source=src(EPICA), line_color=COLORS["EPICA DomeC"], line_width=2)
p.line("x", "y", source=src(NGRIP), line_color=COLORS["NGRIP"], line_width=1.3, y_range_name="o18")
p.line("x", "y", source=src(GRIP), line_color=COLORS["GRIP"], line_width=1.3, y_range_name="o18")

# panel tags
p.add_layout(Label(x=7100, y=-374.5, text=TOP_TAG, text_font=FONT, text_font_size="24px",
                   text_color=INK, text_align="left", text_baseline="middle"))
p.add_layout(Label(x=7100, y=-33.5, y_range_name="o18", text=BOT_TAG, text_font=FONT,
                   text_font_size="24px", text_color=INK, text_align="left", text_baseline="middle"))

# key: text on the left, line sample on the right
for name, yy, rng, lw in (("Vostok", -481.5, "default", 2), ("EPICA DomeC", -491.2, "default", 2),
                          ("NGRIP", -44.19, "o18", 1.5), ("GRIP", -45.13, "o18", 1.5)):
    p.add_layout(Label(x=123900, y=yy, y_range_name=rng, text=name, text_font=FONT,
                       text_font_size="25px", text_color=COLORS[name],
                       text_align="right", text_baseline="middle"))
    p.add_layout(Arrow(end=None, x_start=126200, y_start=yy, x_end=135900, y_end=yy,
                       y_range_name=rng, line_color=COLORS[name], line_width=lw))

# ---------- right-hand axis title (alongside the lower panel) ----------
side_top = TOP + PANEL_H            # lower panel starts here
side = Div(
    text=('<div style="position:relative;width:%dpx;height:%dpx;">'
          '<div style="position:absolute;left:0;top:%dpx;width:40px;height:%dpx;display:flex;'
          'align-items:center;justify-content:center;">'
          '<span style="writing-mode:vertical-rl;transform:rotate(180deg);white-space:nowrap;'
          'font-family:\'Liberation Sans\';font-size:24px;line-height:28px;color:%s;">%s</span>'
          '</div></div>') % (SIDE_W, FIG_H, side_top, PANEL_H, INK, O_LABEL),
    width=SIDE_W, height=FIG_H, margin=0)

# ---------- caption ----------
caption = Div(
    text=('<div style="width:%dpx;text-align:center;font-family:\'DejaVu Sans\';font-weight:bold;'
          'font-size:26.5px;line-height:30px;color:#000;padding-top:1px;">'
          '<span style="text-decoration:underline;text-decoration-thickness:3px;'
          'text-decoration-skip-ink:none;text-underline-offset:5px;">%s</span></div>') % (
              TOTAL_W, CAPTION_HTML.replace("<sup>", '<sup style="font-size:17px;line-height:0;">')),
    width=TOTAL_W, height=53, margin=0)

layout = column(row(p, side, spacing=0), caption, spacing=0, margin=(4, 0, 0, 4),
                styles={"border": "2px solid black", "background-color": "white"})

open("out.html", "w").write(file_html(layout, INLINE))
